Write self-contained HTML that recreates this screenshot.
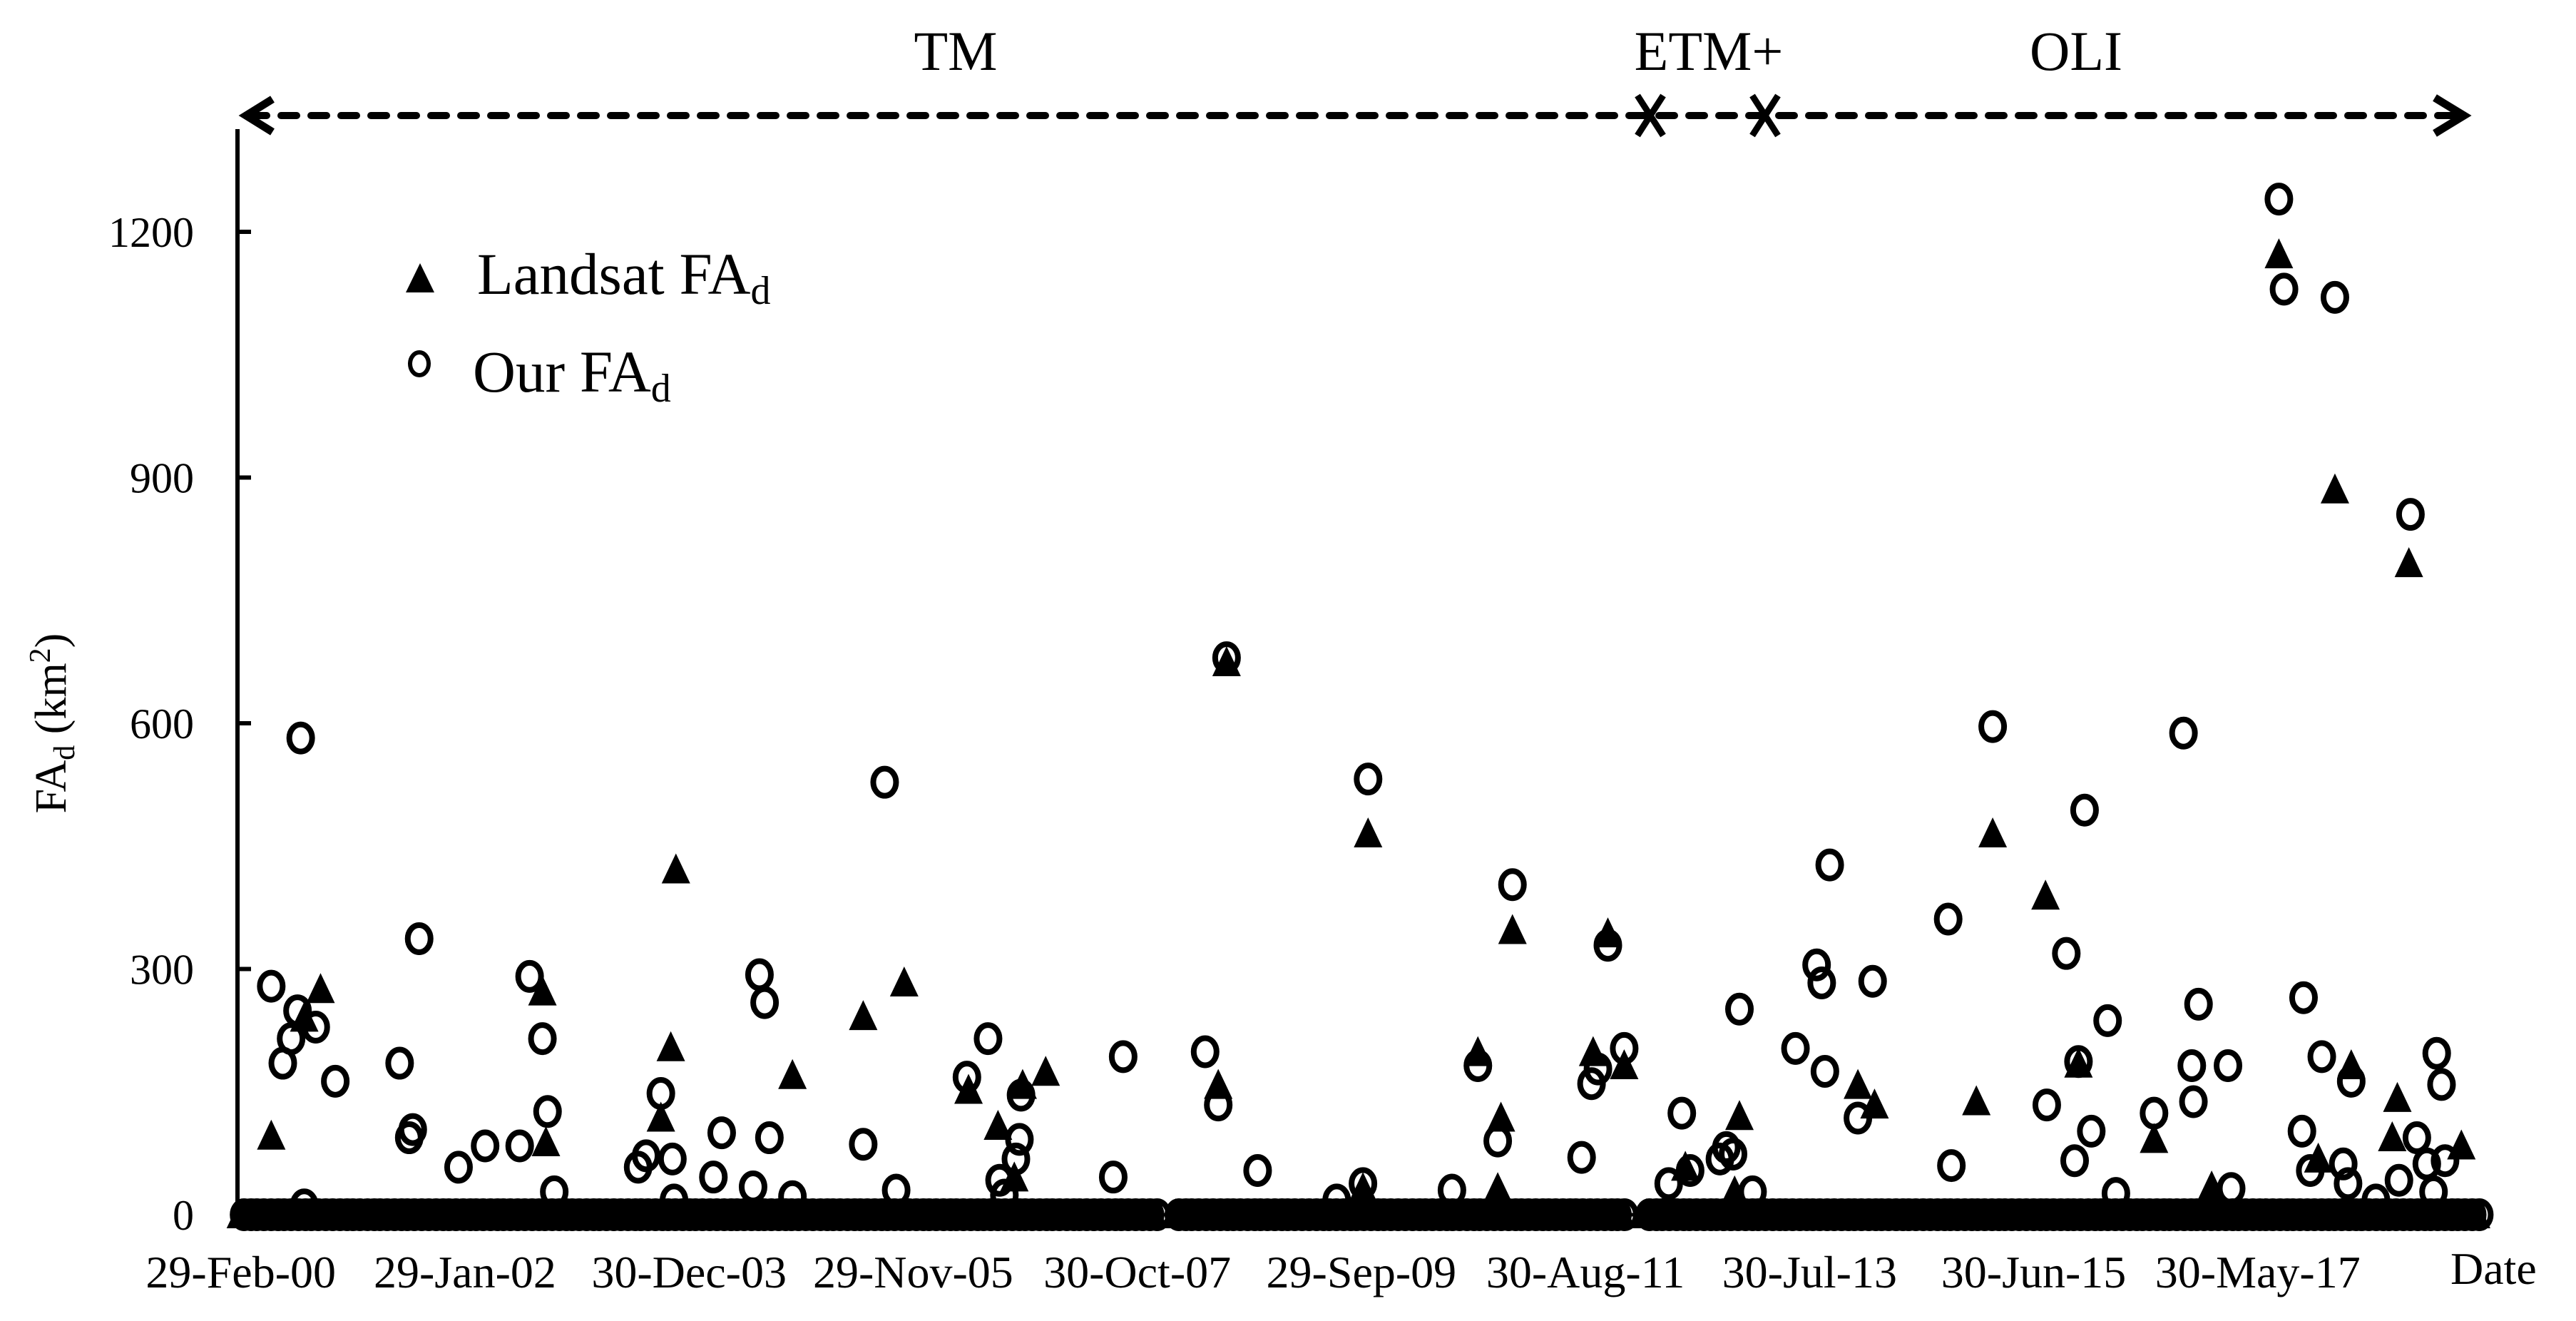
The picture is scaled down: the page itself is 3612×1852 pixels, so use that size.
<!DOCTYPE html>
<html><head><meta charset="utf-8"><style>
html,body{margin:0;padding:0;background:#fff;}
svg{display:block;font-family:"Liberation Serif",serif;}
</style></head><body>
<svg id="chart" width="3612" height="1852" viewBox="0 0 3612 1852" xmlns="http://www.w3.org/2000/svg">
<g id="header">
  <line x1="352" y1="162" x2="3440" y2="162" stroke="#000" stroke-width="10" stroke-dasharray="22 20" stroke-linecap="round"/>
  <polyline points="382,139 345,162 382,185" fill="none" stroke="#000" stroke-width="11" stroke-linejoin="miter"/>
  <polyline points="3414,137 3455,162 3414,187" fill="none" stroke="#000" stroke-width="11"/>
  <g stroke="#000" stroke-width="9"><line x1="2296" y1="134" x2="2332" y2="190"/><line x1="2332" y1="134" x2="2296" y2="190"/></g>
  <g stroke="#000" stroke-width="9"><line x1="2457" y1="134" x2="2493" y2="190"/><line x1="2493" y1="134" x2="2457" y2="190"/></g>
  <text x="1340" y="98" font-size="78" text-anchor="middle">TM</text>
  <text x="2396" y="98" font-size="78" text-anchor="middle">ETM+</text>
  <text x="2911" y="98" font-size="78" text-anchor="middle">OLI</text>
</g>
<g id="axes"></g>
<g id="marks"></g>
<g id="legend">
  <polygon points="589,369 569,410 609,410" fill="#000"/>
  <text x="669" y="412" font-size="83">Landsat FA<tspan font-size="56" dy="14">d</tspan></text>
  <ellipse cx="588" cy="510" rx="13" ry="16" fill="none" stroke="#000" stroke-width="6"/>
  <text x="663" y="549" font-size="83">Our FA<tspan font-size="56" dy="14">d</tspan></text>
</g>
</svg>
<script>
// days since 29-Feb-2000
const landsatDays = [95,198,249,942,953,1312,1343,1359,1723,1944,2072,2273,2365,2416,2442,2514,3053,3079,3505,3521,3864,3926,3936,3972,4224,4270,4321,4512,4666,4681,5051,5103,5421,5472,5637,5740,5976,6156,6366,6489,6541,6592,6720,6736,6772,6936];
const landsatValues = [96,240,275,272,88,118,204,421,170,242,283,152,108,45,158,174,158,674,32,465,198,32,118,347,198,343,182,58,28,120,158,134,138,465,389,184,92,34,1172,68,885,182,94,142,795,84];
const ourDays = [95,131,157,177,187,198,234,295,496,526,537,557,680,763,871,902,942,958,979,1241,1266,1312,1348,1353,1476,1502,1600,1620,1636,1651,1723,1944,2011,2047,2268,2334,2370,2385,2421,2432,2437,2725,2756,3012,3053,3079,3176,3423,3505,3521,3783,3864,3926,3972,4188,4219,4239,4270,4321,4460,4501,4527,4620,4640,4661,4681,4722,4856,4922,4938,4948,4963,5051,5097,5333,5343,5472,5641,5702,5728,5740,5759,5780,5831,5857,5976,6068,6094,6099,6115,6207,6217,6366,6382,6438,6443,6464,6500,6541,6567,6582,6592,6669,6741,6777,6797,6828,6849,6859,6874,6885];
const ourValues = [279,185,215,249,582,12,229,163,185,94,104,337,58,84,84,291,215,126,28,58,72,148,68,18,46,100,34,293,259,94,22,86,528,30,168,215,42,24,68,92,146,46,193,199,134,680,54,18,38,532,30,182,90,403,70,160,178,329,203,38,124,54,68,82,74,251,28,203,305,283,175,427,118,285,361,60,596,134,319,66,187,494,102,237,26,124,588,182,138,257,182,32,1240,1130,102,265,54,193,1120,62,38,163,18,42,855,94,62,28,197,159,66];
const zeroDays = [0,40,85,125,170,210,255,300,340,385,425,470,510,555,600,640,685,725,770,810,855,900,940,985,1025,1070,1110,1155,1200,1240,1285,1325,1370,1410,1455,1500,1540,1585,1625,1670,1710,1755,1800,1840,1885,1925,1970,2010,2055,2100,2140,2185,2225,2270,2310,2355,2400,2440,2485,2525,2570,2610,2655,2700,2740,2785,2830,2920,2960,3005,3050,3090,3135,3175,3220,3260,3305,3350,3390,3435,3475,3520,3560,3605,3650,3690,3735,3775,3820,3860,3905,3950,3990,4035,4075,4120,4160,4205,4250,4290,4390,4430,4475,4515,4560,4600,4645,4690,4730,4775,4815,4860,4900,4945,4990,5030,5075,5115,5160,5200,5245,5290,5330,5375,5415,5460,5500,5545,5590,5630,5675,5715,5760,5800,5845,5890,5930,5975,6015,6060,6100,6145,6190,6230,6275,6315,6360,6400,6445,6490,6530,6575,6615,6660,6700,6745,6790,6830,6875,6915,6960];
const yTicks = [0,300,600,900,1200];
const xTickDays = [0,700,1400,2100,2800,3500,4200,4900,5600,6300];
const xTickLabels = ["29-Feb-00","29-Jan-02","30-Dec-03","29-Nov-05","30-Oct-07","29-Sep-09","30-Aug-11","30-Jul-13","30-Jun-15","30-May-17"];

const NS = "http://www.w3.org/2000/svg";
const X0 = 337.7, PXD = 0.4489, Y0 = 1703, PXV = 344.5/300;
function xs(d){ return X0 + d*PXD; }
function ys(v){ return Y0 - v*PXV; }
function mk(tag, attrs, parent){ const e=document.createElementNS(NS,tag); for(const k in attrs) e.setAttribute(k,attrs[k]); parent.appendChild(e); return e; }

const axes = document.getElementById('axes');
const marks = document.getElementById('marks');
let yAxis = mk('line',{x1:333,y1:181,x2:333,y2:Y0,stroke:'#000','stroke-width':6},axes);


let xAxis = mk('line',{x1:333,y1:Y0,x2:3478,y2:Y0,stroke:'#000','stroke-width':5},axes);


let endTick = mk('line',{x1:3478,y1:Y0-12,x2:3478,y2:Y0+6,stroke:'#000','stroke-width':4},axes);


yTicks.forEach(v=>{
  const t = mk('line',{x1:333,y1:ys(v),x2:352,y2:ys(v),stroke:'#000','stroke-width':6},axes);
  
  
  const l = mk('text',{x:272,y:ys(v)+21,'font-size':60,'text-anchor':'end'},axes);
  l.textContent = v;
  
  
});
xTickDays.forEach((d,i)=>{
  const l = mk('text',{x:xs(d),y:1805,'font-size':64,'text-anchor':'middle'},axes);
  l.textContent = xTickLabels[i];
  
  
});
let dl = mk('text',{x:3436,y:1800,'font-size':64},axes);
dl.textContent = 'Date';


let yt = mk('text',{x:0,y:0,'font-size':62,'text-anchor':'middle',transform:'translate(92,1014) rotate(-90)'},axes);
yt.innerHTML = 'FA<tspan font-size="42" dy="12">d</tspan><tspan dy="-12"> (km</tspan><tspan font-size="42" dy="-22">2</tspan><tspan dy="22">)</tspan>';



function tri(d,v){
  const x=xs(d), y=ys(v);
  const p = mk('polygon',{points:`${x},${y-23} ${x-20},${y+19} ${x+20},${y+19}`,fill:'#000'},marks);
  
  
}
function circ(d,v){
  const c = mk('ellipse',{cx:xs(d),cy:ys(v),rx:16,ry:19,fill:'none',stroke:'#000','stroke-width':8},marks);
  
  
}
zeroDays.forEach(d=>{ tri(d,0); tri(d+22,0); circ(d+10,0); circ(d+32,0); });
landsatDays.forEach((d,i)=>tri(d,landsatValues[i]));
ourDays.forEach((d,i)=>circ(d,ourValues[i]));
</script>
</body></html>
